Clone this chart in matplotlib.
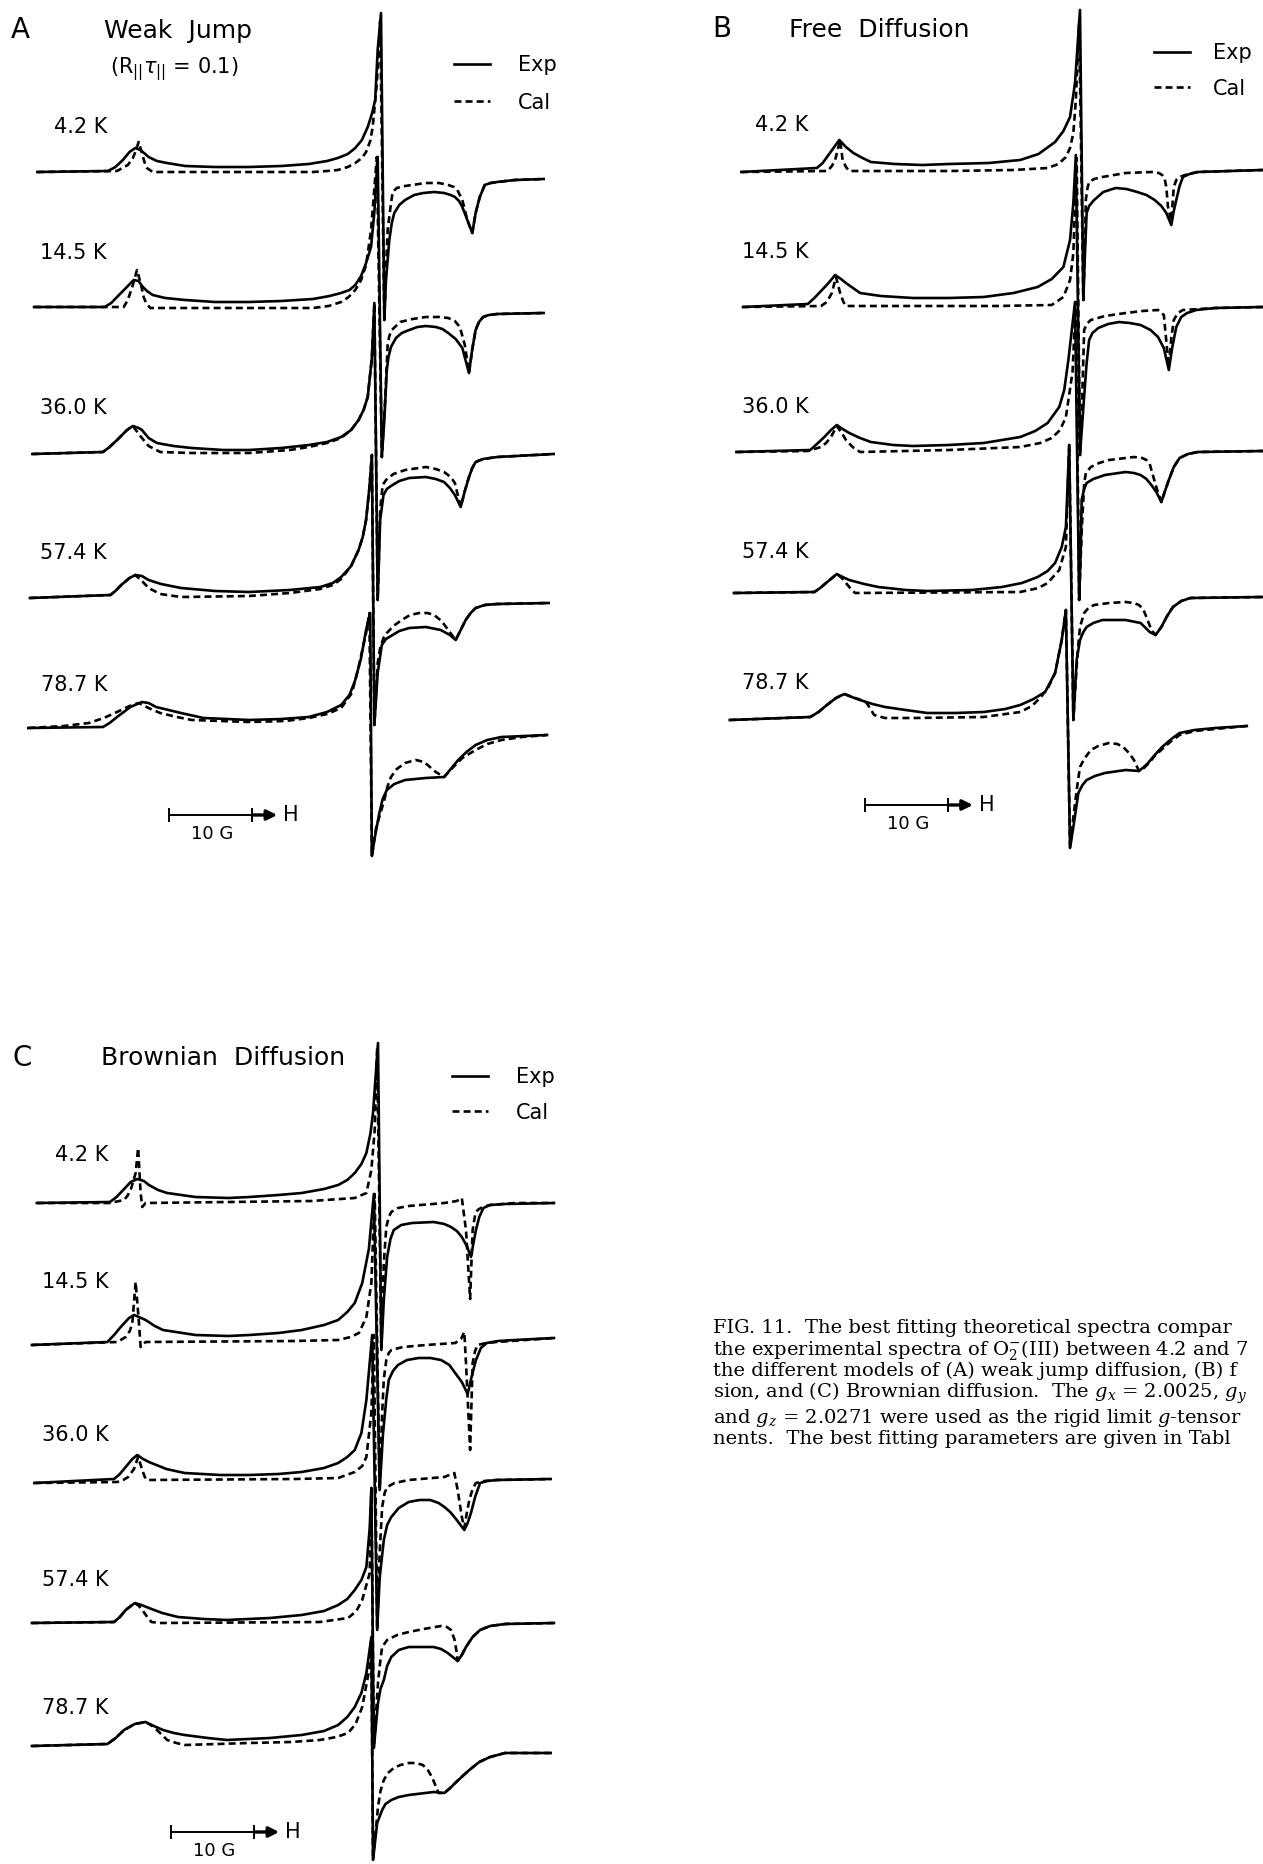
import matplotlib
matplotlib.use("Agg")
import matplotlib.pyplot as plt
from matplotlib.lines import Line2D

plt.rcParams["font.family"] = ["DejaVu Sans"]
plt.rcParams["mathtext.fontset"] = "dejavusans"
plt.rcParams["lines.scale_dashes"] = False

W, H, DPI = 1263, 1864, 100
PX_PER_G = 8.3
LW = 1.9
DASH = (5, 3)

temps = ["4.2 K", "14.5 K", "36.0 K", "57.4 K", "78.7 K"]

# vertical stacking offsets (a.u.) of each trace relative to the 4.2 K one
a_offsets = [0, -136, -282, -427, -557]
b_offsets = [0, -137, -281, -422, -548]
c_offsets = [0, -141, -280, -420, -543]

# spectra: (field from g_y line [G], intensity [a.u.])
a_exp = [
    [(-41.4, -1), (-32.9, 0), (-32.0, 4), (-31.1, 11), (-30.3, 19), (-29.6, 23), (-29.0, 21), (-28.4, 17), (-28.0, 14),
     (-27.0, 10), (-25.8, 8), (-23.6, 5), (-20.0, 4), (-15.9, 4), (-12.0, 5), (-8.7, 7), (-6.5, 10), (-5.2, 13),
     (-4.0, 17), (-3.1, 23), (-2.3, 31), (-1.6, 44), (-1.1, 57), (-0.7, 71), (-0.4, 121), (0.0, 158), (0.4, -149),
     (0.6, -109), (1.0, -69), (1.3, -52), (1.6, -42), (2.2, -34), (2.9, -29), (4.0, -24), (5.1, -22), (6.4, -21),
     (7.6, -22), (8.4, -24), (8.9, -26), (9.4, -30), (9.8, -36), (10.4, -49), (11.0, -62), (11.4, -42), (11.9, -26),
     (12.5, -14), (13.2, -12), (14.0, -11), (16.1, -9), (19.6, -8)],
    [(-41.8, 0), (-33.3, 0), (-32.5, 4), (-31.8, 10), (-30.5, 21), (-29.8, 27), (-29.2, 26), (-28.8, 21), (-28.2, 16),
     (-27.5, 12), (-26.0, 9), (-23.6, 7), (-20.0, 5), (-15.9, 5), (-12.0, 6), (-8.2, 8), (-6.2, 11), (-4.8, 14),
     (-3.8, 17), (-3.1, 22), (-2.4, 31), (-1.8, 44), (-1.2, 60), (-0.8, 95), (-0.4, 150), (0.1, -150), (0.4, -113),
     (0.7, -63), (0.9, -50), (1.2, -40), (1.8, -31), (2.5, -26), (3.4, -23), (4.4, -20), (5.4, -19), (6.6, -20),
     (7.4, -22), (8.1, -26), (9.0, -32), (9.8, -41), (10.6, -66), (11.0, -42), (11.4, -23), (11.8, -15), (12.3, -10),
     (13.0, -8), (14.0, -7), (19.6, -6)],
    [(-42.0, -1), (-33.5, 1), (-32.7, 6), (-31.8, 13), (-30.6, 23), (-29.9, 27), (-29.2, 25), (-28.8, 23), (-28.0, 15),
     (-27.0, 10), (-25.0, 7), (-22.8, 5), (-19.0, 3), (-15.9, 3), (-12.0, 5), (-8.7, 8), (-6.5, 11), (-4.8, 16),
     (-3.6, 23), (-2.7, 33), (-2.1, 43), (-1.6, 56), (-1.1, 95), (-0.8, 150), (-0.4, -147), (-0.1, -67), (0.3, -42),
     (0.7, -36), (1.2, -33), (2.2, -28), (3.4, -25), (5.4, -24), (6.6, -26), (7.6, -29), (8.3, -35), (8.9, -42),
     (9.6, -54), (10.1, -38), (10.6, -24), (11.0, -15), (11.4, -9), (12.3, -6), (14.0, -4), (20.8, -1)],
    [(-42.3, 0), (-32.6, 3), (-32.0, 7), (-31.3, 13), (-30.3, 20), (-29.6, 23), (-28.8, 22), (-28.0, 18), (-26.5, 14),
     (-24.1, 10), (-20.0, 7), (-15.9, 6), (-11.0, 8), (-7.3, 11), (-5.8, 15), (-4.8, 21), (-3.6, 32), (-2.7, 48),
     (-2.2, 61), (-1.8, 78), (-1.4, 110), (-1.1, 143), (-0.8, -127), (-0.4, -75), (0.1, -47), (0.6, -41), (1.2, -38),
     (2.2, -33), (3.4, -30), (5.4, -29), (7.2, -32), (8.3, -37), (9.0, -42), (9.6, -32), (10.2, -22), (10.8, -15),
     (11.4, -10), (12.5, -7), (14.0, -6), (20.2, -5)],
    [(-42.5, 0), (-33.5, 1), (-32.7, 5), (-31.8, 11), (-30.2, 21), (-28.8, 26), (-28.0, 25), (-27.1, 21), (-25.6, 18),
     (-24.1, 15), (-21.4, 10), (-18.5, 9), (-15.9, 8), (-12.0, 9), (-8.7, 11), (-6.5, 16), (-4.8, 23), (-3.8, 33),
     (-3.1, 48), (-2.4, 70), (-1.8, 98), (-1.3, 115), (-1.1, -128), (-0.8, -112), (-0.2, -85), (0.2, -71), (0.7, -62),
     (1.6, -56), (2.9, -52), (5.4, -50), (7.6, -49), (8.5, -40), (9.3, -32), (10.3, -24), (11.4, -17), (12.8, -12),
     (14.5, -9), (20.0, -7)],
]
a_cal = [
    [(-41.4, -1), (-31.8, 0), (-30.5, 6), (-29.9, 13), (-29.6, 19), (-29.2, 29), (-28.8, 18), (-28.5, 9), (-28.2, 3),
     (-27.5, -1), (-8.2, -1), (-6.5, 0), (-5.2, 1), (-4.0, 4), (-3.1, 8), (-2.3, 13), (-1.8, 19), (-1.3, 30),
     (-1.0, 44), (-0.5, 88), (-0.1, 150), (0.4, -149), (0.6, -99), (0.8, -59), (1.1, -39), (1.4, -21), (1.9, -17),
     (2.9, -15), (5.4, -12), (7.0, -12), (8.1, -14), (8.8, -16), (9.2, -19), (9.8, -29), (10.4, -49), (11.0, -62),
     (11.4, -42), (11.9, -26), (12.5, -14), (13.2, -12), (14.0, -11), (16.1, -9), (19.6, -8)],
    [(-41.8, 0), (-31.0, 0), (-30.5, 7), (-29.9, 22), (-29.4, 37), (-28.9, 22), (-28.6, 10), (-28.3, 4), (-27.8, -1),
     (-8.2, -1), (-6.3, 1), (-4.8, 5), (-3.9, 10), (-3.1, 17), (-2.4, 27), (-1.8, 42), (-1.2, 77), (-0.5, 150),
     (0.1, -150), (0.5, -93), (0.8, -38), (1.0, -29), (1.3, -23), (2.3, -15), (3.8, -12), (5.4, -10), (7.0, -10),
     (8.1, -11), (8.9, -14), (9.5, -20), (10.1, -38), (10.6, -66), (11.0, -42), (11.4, -23), (11.8, -15), (12.3, -10),
     (13.0, -8), (14.0, -7), (19.6, -6)],
    [(-42.0, -1), (-33.5, 1), (-32.7, 6), (-31.8, 13), (-30.6, 23), (-29.9, 27), (-29.0, 17), (-28.0, 7), (-26.6, 1),
     (-22.8, 0), (-15.9, 0), (-11.0, 3), (-8.7, 6), (-6.5, 10), (-4.8, 15), (-3.6, 23), (-2.7, 33), (-2.1, 43),
     (-1.6, 56), (-1.1, 95), (-0.8, 150), (-0.4, -147), (-0.1, -57), (0.2, -32), (0.6, -27), (1.5, -21), (2.9, -17),
     (5.4, -14), (6.6, -16), (7.6, -19), (8.4, -24), (8.9, -30), (9.6, -54), (10.1, -38), (10.6, -24), (11.0, -15),
     (11.4, -9), (12.3, -6), (14.0, -4), (20.8, -1)],
    [(-42.3, 0), (-32.6, 3), (-32.0, 7), (-31.3, 13), (-30.3, 20), (-29.6, 23), (-28.8, 17), (-28.0, 10), (-26.6, 4),
     (-24.1, 1), (-15.9, 2), (-11.0, 5), (-7.3, 9), (-5.8, 13), (-4.8, 19), (-3.6, 32), (-2.7, 48), (-2.2, 61),
     (-1.8, 78), (-1.4, 110), (-1.1, 143), (-0.8, -127), (-0.4, -65), (-0.1, -50), (0.3, -40), (0.7, -35), (1.5, -28),
     (2.5, -22), (3.5, -17), (4.6, -15), (5.6, -15), (6.4, -17), (7.3, -23), (8.1, -32), (9.0, -42), (9.6, -32),
     (10.2, -22), (10.8, -15), (11.4, -10), (12.5, -7), (14.0, -6), (20.2, -5)],
    [(-42.5, 0), (-38.2, 2), (-35.2, 5), (-33.4, 10), (-31.8, 16), (-30.3, 22), (-29.2, 25), (-28.0, 20), (-26.6, 15),
     (-24.6, 11), (-22.8, 8), (-15.9, 6), (-11.5, 7), (-8.7, 10), (-6.5, 14), (-4.8, 20), (-3.5, 35), (-2.7, 61),
     (-1.8, 95), (-1.4, 115), (-1.1, -128), (-0.6, -100), (0.4, -72), (0.8, -58), (1.2, -49), (1.9, -41), (2.9, -35),
     (4.2, -32), (5.2, -34), (5.9, -39), (6.6, -44), (7.2, -47), (7.6, -49), (8.6, -40), (9.8, -30), (10.6, -26),
     (11.4, -22), (12.8, -16), (14.5, -12), (17.0, -9), (20.0, -7)],
]

b_exp = [
    [(-40.8, -1), (-31.7, 3), (-31.0, 8), (-30.4, 15), (-29.7, 23), (-29.0, 31), (-28.2, 24), (-27.3, 18), (-26.2, 13),
     (-25.2, 9), (-22.3, 7), (-19.0, 6), (-15.8, 7), (-11.0, 8), (-7.2, 11), (-5.0, 17), (-3.0, 29), (-2.0, 40),
     (-1.2, 54), (-0.6, 88), (0.0, 161), (0.4, -129), (0.6, -82), (0.8, -42), (1.1, -35), (1.7, -29), (2.8, -21),
     (4.3, -17), (5.6, -18), (6.9, -21), (8.0, -24), (9.0, -29), (9.8, -35), (10.4, -42), (11.0, -54), (11.3, -40),
     (11.6, -29), (12.0, -15), (12.4, -6), (13.2, -3), (14.2, -1), (22.0, 1)],
    [(-40.6, 1), (-32.8, 4), (-32.0, 10), (-31.2, 17), (-30.3, 25), (-29.5, 33), (-28.8, 29), (-28.2, 25), (-26.5, 15),
     (-24.0, 12), (-20.1, 10), (-15.8, 10), (-11.6, 11), (-8.0, 15), (-5.1, 21), (-3.4, 29), (-2.0, 41), (-1.2, 68),
     (-0.8, 105), (-0.5, 153), (0.0, -147), (0.4, -100), (0.8, -55), (1.1, -32), (1.5, -25), (2.2, -20), (3.4, -16),
     (4.7, -14), (6.0, -15), (7.3, -17), (8.5, -22), (9.4, -29), (10.1, -40), (10.7, -62), (11.1, -40), (11.6, -19),
     (12.2, -9), (12.9, -5), (14.0, -2), (16.3, 0), (22.0, 1)],
    [(-41.4, 0), (-32.5, 2), (-31.7, 8), (-30.8, 15), (-30.0, 22), (-29.3, 27), (-28.6, 23), (-27.8, 19), (-26.5, 14),
     (-25.2, 10), (-22.5, 7), (-20.1, 6), (-15.8, 7), (-11.6, 9), (-7.2, 15), (-5.4, 21), (-3.9, 29), (-2.5, 45),
     (-1.9, 62), (-1.4, 92), (-0.6, 150), (-0.1, -148), (0.1, -95), (0.2, -48), (0.5, -37), (0.8, -31), (1.6, -27),
     (3.0, -23), (5.5, -20), (6.5, -21), (7.3, -23), (8.0, -27), (8.6, -33), (9.2, -40), (9.8, -50), (10.2, -40),
     (10.7, -28), (11.3, -15), (12.0, -6), (13.0, -2), (14.2, 0), (22.0, 1)],
    [(-41.7, 0), (-32.0, 1), (-31.3, 5), (-30.6, 10), (-29.3, 19), (-28.6, 16), (-27.8, 13), (-26.0, 9), (-24.3, 6),
     (-21.0, 3), (-18.4, 2), (-13.0, 3), (-9.4, 6), (-7.0, 10), (-5.1, 16), (-3.9, 22), (-3.0, 30), (-2.2, 46),
     (-1.7, 66), (-1.3, 148), (-0.8, -127), (-0.4, -67), (0.0, -47), (0.4, -39), (0.8, -34), (1.6, -30), (2.7, -27),
     (5.5, -27), (7.3, -30), (8.4, -39), (9.1, -42), (9.8, -34), (10.5, -23), (11.2, -14), (12.2, -8), (13.3, -5),
     (22.0, -4)],
    [(-42.2, -1), (-32.5, 2), (-31.5, 7), (-30.5, 14), (-29.4, 21), (-28.4, 25), (-27.5, 22), (-26.5, 19), (-25.0, 15),
     (-23.5, 12), (-21.0, 9), (-18.4, 6), (-15.0, 6), (-11.6, 7), (-9.0, 10), (-7.2, 14), (-5.6, 20), (-4.2, 27),
     (-3.0, 46), (-2.2, 79), (-1.7, 109), (-1.2, -129), (-0.8, -108), (-0.2, -74), (0.3, -66), (0.8, -61), (1.8, -57),
     (3.0, -54), (5.5, -51), (7.1, -52), (7.7, -48), (8.2, -44), (9.0, -36), (9.9, -28), (11.0, -20), (12.0, -14),
     (13.8, -11), (16.3, -9), (20.1, -7)],
]
b_cal = [
    [(-40.8, -1), (-30.4, 0), (-29.9, 5), (-29.5, 11), (-28.9, 31), (-28.6, 11), (-28.2, 4), (-27.8, 0), (-15.8, 0),
     (-8.0, 1), (-3.9, 3), (-2.6, 7), (-1.7, 14), (-1.2, 23), (-0.8, 38), (-0.5, 71), (-0.1, 150), (0.4, -129),
     (0.6, -70), (0.7, -29), (0.9, -17), (1.1, -11), (1.7, -8), (2.7, -6), (5.5, -2), (8.6, -1), (9.5, -2), (9.9, -4),
     (10.2, -8), (10.4, -16), (10.6, -36), (11.0, -50), (11.3, -16), (11.6, -9), (12.0, -6), (13.0, -3), (14.2, -1),
     (22.0, 1)],
    [(-40.6, 1), (-31.2, 2), (-30.5, 6), (-29.9, 15), (-29.4, 31), (-28.9, 15), (-28.5, 6), (-28.2, 2), (-10.0, 2),
     (-3.4, 3), (-2.0, 11), (-1.2, 28), (-0.8, 55), (-0.4, 150), (0.0, -147), (0.3, -80), (0.5, -22), (0.8, -16),
     (1.3, -12), (3.0, -8), (5.5, -5), (7.5, -3), (9.4, -2), (10.1, -7), (10.5, -42), (10.7, -59), (11.0, -30),
     (11.3, -12), (11.8, -5), (12.4, -2), (16.3, 0), (22.0, 1)],
    [(-41.4, 0), (-32.8, 1), (-31.2, 5), (-30.6, 9), (-30.0, 15), (-29.3, 26), (-28.7, 19), (-28.2, 12), (-27.4, 5),
     (-26.5, 0), (-15.8, 2), (-7.2, 5), (-4.8, 9), (-3.4, 14), (-2.4, 22), (-1.7, 35), (-0.9, 80), (-0.5, 150),
     (-0.1, -148), (0.2, -80), (0.5, -32), (0.7, -21), (1.3, -15), (2.3, -11), (3.5, -8), (6.5, -5), (7.5, -6),
     (8.0, -8), (8.4, -12), (8.6, -18), (9.3, -38), (9.8, -50), (10.2, -40), (10.7, -28), (11.3, -15), (12.0, -6),
     (13.0, -2), (14.2, 0), (22.0, 1)],
    [(-41.7, 0), (-32.0, 1), (-31.3, 5), (-30.6, 10), (-29.3, 19), (-28.7, 15), (-28.2, 10), (-27.6, 4), (-27.1, 0),
     (-7.2, 1), (-5.0, 5), (-3.9, 10), (-2.5, 23), (-1.7, 46), (-1.3, 148), (-0.8, -127), (-0.3, -60), (0.0, -34),
     (0.5, -20), (1.0, -15), (1.7, -12), (3.5, -10), (5.5, -9), (6.5, -10), (7.1, -12), (7.6, -16), (8.0, -24),
     (8.6, -37), (9.1, -42), (9.8, -34), (10.5, -23), (11.2, -14), (12.2, -8), (13.3, -5), (22.0, -4)],
    [(-42.2, -1), (-32.5, 2), (-31.5, 7), (-30.5, 14), (-29.4, 21), (-28.4, 25), (-27.4, 22), (-26.4, 19), (-25.7, 16),
     (-24.8, 4), (-23.5, 1), (-20.1, 1), (-11.6, 2), (-7.2, 7), (-5.8, 13), (-4.7, 22), (-3.8, 32), (-3.0, 46),
     (-2.2, 79), (-1.7, 109), (-1.2, -129), (-0.8, -98), (-0.3, -65), (0.0, -48), (0.5, -40), (1.3, -31), (2.2, -27),
     (3.5, -24), (4.5, -25), (5.2, -28), (5.9, -34), (6.5, -41), (7.1, -52), (7.7, -49), (8.2, -45), (9.0, -37),
     (9.9, -30), (11.0, -22), (12.0, -16), (13.8, -12), (16.3, -10), (20.1, -7)],
]

c_exp = [
    [(-41.1, 0), (-32.3, 1), (-31.5, 6), (-30.7, 13), (-29.8, 21), (-29.0, 24), (-28.2, 22), (-27.6, 18), (-26.5, 13),
     (-25.4, 10), (-22.0, 6), (-18.0, 5), (-15.5, 6), (-12.0, 8), (-9.2, 10), (-6.5, 14), (-4.8, 18), (-3.7, 23),
     (-2.8, 30), (-2.0, 39), (-1.4, 50), (-0.9, 70), (-0.6, 90), (0.0, 160), (0.4, -147), (0.7, -97), (1.1, -54),
     (1.5, -36), (1.9, -27), (2.8, -22), (4.1, -20), (6.7, -19), (8.0, -21), (8.8, -24), (9.5, -28), (10.1, -34),
     (10.7, -43), (11.2, -54), (11.5, -40), (11.8, -27), (12.2, -14), (12.7, -5), (13.5, -2), (15.3, -1), (21.2, 0)],
    [(-41.7, -1), (-32.6, 2), (-31.8, 9), (-31.0, 17), (-30.0, 26), (-29.4, 29), (-28.8, 27), (-28.0, 24), (-26.9, 18),
     (-25.9, 14), (-22.0, 9), (-18.0, 8), (-15.5, 9), (-12.0, 11), (-9.2, 14), (-6.5, 19), (-4.8, 24), (-3.7, 32),
     (-2.8, 41), (-1.9, 61), (-1.1, 95), (-0.5, 150), (0.2, -146), (0.6, -90), (1.0, -55), (1.3, -36), (1.8, -27),
     (2.4, -21), (3.5, -16), (4.9, -14), (6.3, -14), (7.6, -16), (8.6, -21), (9.3, -29), (10.1, -38), (10.8, -50),
     (11.3, -32), (11.8, -16), (12.4, -4), (13.1, 1), (14.5, 3), (16.5, 4), (21.2, 6)],
    [(-41.4, 0), (-31.8, 4), (-31.1, 9), (-30.4, 16), (-29.6, 24), (-29.0, 28), (-28.3, 24), (-27.6, 21), (-25.5, 14),
     (-23.3, 10), (-19.0, 8), (-15.5, 8), (-12.0, 9), (-9.2, 11), (-6.5, 15), (-4.8, 20), (-3.7, 26), (-2.8, 33),
     (-2.0, 50), (-1.4, 83), (-0.7, 148), (-0.1, -147), (0.2, -95), (0.7, -57), (1.1, -42), (1.6, -34), (2.5, -25),
     (3.7, -19), (5.0, -17), (6.3, -17), (7.3, -20), (8.0, -24), (8.7, -29), (9.3, -35), (10.4, -47), (10.8, -40),
     (11.2, -30), (11.7, -14), (12.3, 0), (13.2, 2), (14.3, 3), (20.8, 4)],
    [(-41.7, 0), (-31.8, 1), (-31.1, 6), (-30.4, 13), (-29.3, 20), (-28.5, 18), (-27.6, 15), (-26.0, 10), (-24.1, 6),
     (-21.0, 4), (-18.2, 3), (-13.0, 5), (-9.2, 8), (-6.5, 12), (-4.8, 18), (-3.7, 24), (-2.8, 33), (-2.0, 43),
     (-1.4, 56), (-1.0, 95), (-0.8, 135), (-0.5, -125), (0.0, -80), (0.3, -66), (0.7, -57), (1.1, -43), (1.6, -34),
     (2.5, -27), (3.7, -24), (6.7, -24), (7.6, -26), (8.4, -30), (9.0, -34), (9.6, -38), (10.1, -32), (10.6, -24),
     (11.4, -14), (12.3, -7), (13.5, -3), (15.3, -1), (21.2, 0)],
    [(-41.7, 0), (-32.6, 2), (-31.6, 8), (-30.6, 16), (-29.3, 22), (-28.0, 24), (-27.0, 20), (-25.9, 16), (-24.6, 13),
     (-23.3, 11), (-20.5, 8), (-18.2, 6), (-13.0, 8), (-9.2, 11), (-6.5, 15), (-4.8, 21), (-3.7, 29), (-2.8, 39),
     (-2.0, 53), (-1.4, 73), (-0.8, 109), (-0.6, -114), (-0.1, -77), (0.5, -64), (0.9, -58), (1.6, -54), (2.5, -51),
     (3.7, -49), (6.7, -46), (8.0, -47), (8.7, -42), (9.3, -37), (10.2, -30), (11.0, -24), (12.2, -16), (13.5, -11),
     (15.3, -7), (20.8, -7)],
]
c_cal = [
    [(-41.1, 0), (-32.3, 0), (-30.6, 3), (-30.2, 7), (-29.8, 13), (-29.2, 30), (-28.9, 55), (-28.6, 10), (-28.4, -4),
     (-28.0, 0), (-8.0, 2), (-2.8, 5), (-1.4, 10), (-0.8, 33), (-0.4, 73), (-0.1, 155), (0.4, -147), (0.7, -60),
     (1.0, -24), (1.3, -14), (1.6, -9), (2.4, -5), (3.7, -3), (8.0, 0), (9.5, 2), (10.1, 5), (10.6, -27), (11.1, -96),
     (11.4, -27), (11.7, -12), (12.0, -7), (12.6, -4), (13.5, -2), (16.5, 0), (21.2, 0)],
    [(-41.7, -1), (-31.4, 2), (-30.4, 7), (-29.9, 13), (-29.6, 21), (-29.2, 62), (-28.8, 21), (-28.6, -3), (-28.0, 2),
     (-10.0, 3), (-4.8, 4), (-3.3, 7), (-2.3, 11), (-1.4, 27), (-0.8, 61), (-0.4, 150), (0.2, -146), (0.5, -70),
     (0.7, -35), (1.0, -16), (1.3, -9), (1.6, -6), (3.0, -3), (5.8, -1), (9.3, 1), (10.0, 5), (10.4, 12), (10.6, -19),
     (11.1, -106), (11.4, -19), (11.7, -7), (12.0, -1), (13.0, 1), (14.3, 2), (21.2, 6)],
    [(-41.4, 0), (-31.4, 1), (-30.7, 3), (-30.1, 6), (-29.4, 14), (-28.9, 26), (-28.4, 13), (-28.1, 6), (-27.8, 3),
     (-10.0, 4), (-4.8, 5), (-2.8, 11), (-1.9, 17), (-1.4, 26), (-0.8, 70), (-0.5, 148), (-0.1, -147), (0.2, -70),
     (0.5, -24), (0.8, -10), (1.1, -4), (2.0, 0), (3.7, 3), (8.0, 6), (9.2, 10), (9.6, -7), (10.1, -34), (10.4, -45),
     (10.7, -30), (11.0, -17), (11.4, -6), (11.8, 0), (12.8, 2), (14.3, 3), (20.8, 4)],
    [(-41.7, 0), (-31.8, 1), (-31.1, 6), (-30.4, 13), (-29.3, 20), (-28.8, 17), (-28.4, 13), (-27.8, 6), (-27.3, 1),
     (-26.3, 0), (-7.0, 1), (-3.6, 5), (-2.6, 12), (-1.9, 23), (-1.0, 50), (-0.8, 135), (-0.5, -125), (0.0, -60),
     (0.3, -36), (0.5, -24), (1.1, -17), (2.3, -12), (3.7, -9), (5.5, -6), (7.6, -3), (8.3, -4), (8.8, -7), (9.2, -16),
     (9.5, -30), (9.6, -38), (10.1, -32), (10.6, -24), (11.4, -14), (12.3, -7), (13.5, -3), (15.3, -1), (21.2, 0)],
    [(-41.7, 0), (-32.6, 2), (-31.6, 8), (-30.6, 16), (-29.3, 22), (-28.0, 24), (-27.2, 20), (-26.5, 15), (-25.4, 6),
     (-24.3, 3), (-23.3, 1), (-15.5, 3), (-10.5, 4), (-7.0, 6), (-5.0, 9), (-3.6, 13), (-2.7, 22), (-1.9, 39),
     (-1.0, 79), (-0.8, 109), (-0.6, -114), (0.0, -61), (0.3, -45), (0.7, -34), (1.2, -27), (1.9, -22), (2.7, -19),
     (3.7, -17), (4.6, -17), (5.4, -19), (6.0, -24), (6.5, -31), (7.3, -47), (8.0, -47), (8.7, -42), (9.3, -37),
     (10.2, -30), (11.0, -24), (12.2, -16), (13.5, -11), (15.3, -7), (20.8, -7)],
]

# caption as far as it shows before the page edge
caption_lines = [
    "FIG. 11.  The best fitting theoretical spectra compar",
    "the experimental spectra of O$_2^{-}$(III) between 4.2 and 7",
    "the different models of (A) weak jump diffusion, (B) f",
    "sion, and (C) Brownian diffusion.  The $g_x$ = 2.0025, $g_y$",
    "and $g_z$ = 2.0271 were used as the rigid limit $g$-tensor",
    "nents.  The best fitting parameters are given in Tabl",
]


def fxy(x, y):
    return x / W, 1 - y / H


def panel_axes(left, top, right, bottom, center, base):
    ax = fig.add_axes([left / W, 1 - bottom / H, (right - left) / W, (bottom - top) / H])
    ax.set_xlim((left - center) / PX_PER_G, (right - center) / PX_PER_G)
    ax.set_ylim(base - bottom, base - top)
    ax.axis("off")
    return ax


def draw_panel(ax, exp, cal, offsets, label_x, label_dy, bar_x, bar_y):
    for k in range(len(temps)):
        fx, iy = zip(*exp[k])
        ax.plot(fx, [v + offsets[k] for v in iy], color="k", lw=LW, clip_on=False)
        fx, iy = zip(*cal[k])
        ax.plot(fx, [v + offsets[k] for v in iy], color="k", lw=LW, dashes=DASH, clip_on=False)
        ax.text(label_x, offsets[k] + label_dy[k], temps[k], ha="right", va="center", fontsize=15)
    # 10 G scale bar with field arrow
    ax.plot([bar_x, bar_x + 10], [bar_y, bar_y], color="k", lw=1.4)
    for t in (bar_x, bar_x + 10):
        ax.plot([t, t], [bar_y - 6, bar_y + 6], color="k", lw=1.4)
    ax.annotate("", xy=(bar_x + 13.0, bar_y), xytext=(bar_x + 10, bar_y),
                arrowprops=dict(arrowstyle="-|>", color="k", lw=2.4, mutation_scale=15, shrinkA=0, shrinkB=0))
    ax.text(bar_x + 13.7, bar_y, "H", ha="left", va="center", fontsize=15)
    ax.text(bar_x + 5.2, bar_y - 19, "10 G", ha="center", va="center", fontsize=13)


def legend(x, y, spacing, pad=1.3):
    handles = [Line2D([], [], color="k", lw=LW), Line2D([], [], color="k", lw=LW, dashes=DASH)]
    fig.legend(handles, ["Exp", "Cal"], loc="upper left", bbox_to_anchor=fxy(x, y), frameon=False,
               fontsize=15, handlelength=1.75, handletextpad=pad, labelspacing=spacing,
               borderpad=0, borderaxespad=0)


fig = plt.figure(figsize=(W / DPI, H / DPI), dpi=DPI)

ax_a = panel_axes(0, 0, 640, 1000, 381, 171)
draw_panel(ax_a, a_exp, a_cal, a_offsets, -33.0, [44, 54, 45, 45, 43], -25.5, -644)
ax_b = panel_axes(640, 0, 1263, 1000, 1080, 171)
draw_panel(ax_b, b_exp, b_cal, b_offsets, -32.7, [46, 56, 45, 41, 36], -25.9, -634)
ax_c = panel_axes(0, 1000, 640, 1864, 378, 1203)
draw_panel(ax_c, c_exp, c_cal, c_offsets, -32.5, [48, 62, 48, 43, 38], -24.9, -629)

# panel headings
fig.text(*fxy(11, 30), "A", fontsize=20, ha="left", va="center")
fig.text(*fxy(104, 31), "Weak  Jump", fontsize=18, ha="left", va="center")
fig.text(*fxy(110, 69), r"(R$_{||}$$\tau_{||}$ = 0.1)", fontsize=15, ha="left", va="center")
fig.text(*fxy(712, 29), "B", fontsize=20, ha="left", va="center")
fig.text(*fxy(789, 30), "Free  Diffusion", fontsize=18, ha="left", va="center")
fig.text(*fxy(13, 1058), "C", fontsize=20, ha="left", va="center")
fig.text(*fxy(101, 1058), "Brownian  Diffusion", fontsize=18, ha="left", va="center")

legend(454, 55, 0.85)
legend(1154, 43, 0.75, pad=1.1)
legend(452, 1067, 0.75)

fig.text(*fxy(713, 1319), "\n".join(caption_lines), fontsize=14, family="DejaVu Serif",
         math_fontfamily="dejavuserif", ha="left", va="top", linespacing=1.04)

fig.savefig("out.png", dpi=DPI)
